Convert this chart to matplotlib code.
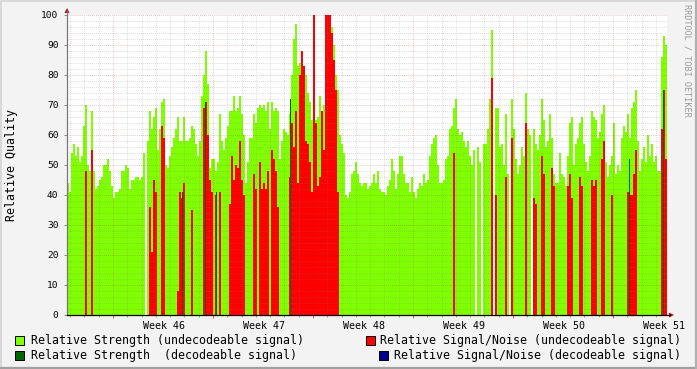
import numpy as np
import matplotlib
matplotlib.use("Agg")
import matplotlib.pyplot as plt
from matplotlib.patches import Rectangle, Polygon
from matplotlib.lines import Line2D
from matplotlib.transforms import blended_transform_factory

# one sample every 0.14 days (about 3.4 h), 300 samples = 6 weeks
sample_days = 0.14

strength_undec = [
    44, 41, 54, 57, 53, 56, 51, 53, 63, 70,
    50, 48, 68, 48, 42, 43, 45, 46, 50, 50,
    52, 48, 43, 39, 41, 41, 42, 48, 48, 50,
    49, 42, 45, 45, 46, 46, 45, 46, 54, 0,
    58, 68, 62, 66, 69, 55, 62, 71, 72, 50,
    49, 53, 56, 59, 62, 66, 58, 58, 66, 58,
    58, 59, 63, 62, 57, 53, 58, 73, 80, 88,
    77, 49, 52, 52, 48, 51, 67, 58, 55, 59,
    63, 68, 68, 73, 68, 69, 73, 67, 60, 44,
    51, 59, 59, 67, 64, 69, 70, 69, 70, 68,
    71, 62, 71, 68, 69, 68, 52, 58, 62, 61,
    60, 67, 80, 92, 97, 83, 84, 86, 83, 80,
    74, 71, 65, 65, 65, 66, 73, 68, 70, 82,
    97, 98, 96, 90, 80, 75, 60, 57, 54, 40,
    39, 41, 47, 48, 51, 47, 44, 43, 44, 44,
    42, 43, 44, 47, 44, 48, 42, 41, 41, 40,
    43, 45, 52, 48, 42, 47, 53, 53, 47, 44,
    44, 41, 46, 41, 39, 42, 44, 43, 47, 44,
    45, 53, 57, 59, 60, 50, 44, 44, 45, 52,
    53, 62, 63, 69, 72, 62, 60, 61, 58, 56,
    58, 53, 50, 55, 0, 56, 51, 0, 57, 57,
    62, 72, 95, 0, 69, 69, 56, 57, 50, 67,
    47, 0, 72, 62, 52, 47, 50, 56, 53, 74,
    62, 60, 0, 62, 57, 55, 60, 72, 65, 56,
    58, 67, 59, 47, 44, 44, 54, 47, 46, 43,
    53, 64, 66, 50, 57, 59, 64, 66, 57, 51,
    48, 53, 68, 66, 65, 59, 61, 67, 70, 51,
    46, 50, 53, 64, 47, 50, 48, 59, 63, 61,
    67, 59, 69, 71, 75, 58, 48, 52, 56, 51,
    60, 53, 57, 51, 53, 48, 48, 86, 93, 90,
]

snr_undec = [
    0, 0, 0, 0, 0, 0, 0, 0, 0, 48,
    0, 0, 55, 0, 0, 0, 0, 0, 0, 0,
    0, 0, 0, 0, 0, 0, 0, 0, 0, 0,
    0, 0, 0, 0, 0, 0, 0, 0, 0, 0,
    0, 36, 21, 45, 41, 0, 0, 63, 59, 0,
    0, 0, 0, 0, 0, 8, 41, 39, 44, 0,
    0, 0, 35, 0, 0, 0, 0, 0, 69, 71,
    60, 45, 41, 0, 40, 0, 41, 0, 0, 0,
    0, 37, 53, 45, 50, 49, 58, 45, 40, 0,
    0, 0, 0, 47, 42, 0, 51, 42, 44, 42,
    48, 0, 55, 52, 48, 36, 0, 0, 0, 0,
    0, 46, 64, 56, 68, 44, 80, 88, 83, 58,
    57, 51, 41, 100, 64, 43, 46, 68, 55, 100,
    100, 100, 94, 85, 75, 41, 0, 0, 0, 0,
    0, 0, 0, 0, 0, 0, 0, 0, 0, 0,
    0, 0, 0, 0, 0, 0, 0, 0, 0, 0,
    0, 0, 0, 0, 0, 0, 0, 0, 0, 0,
    0, 0, 0, 0, 0, 0, 0, 0, 0, 0,
    0, 0, 0, 0, 0, 0, 0, 0, 0, 0,
    0, 0, 0, 54, 0, 0, 0, 0, 0, 0,
    0, 0, 0, 0, 0, 0, 0, 0, 0, 0,
    0, 0, 79, 0, 40, 0, 0, 0, 0, 46,
    0, 0, 59, 0, 0, 0, 0, 0, 0, 64,
    0, 0, 0, 39, 37, 0, 0, 53, 47, 0,
    0, 0, 49, 43, 0, 0, 0, 0, 0, 0,
    43, 47, 39, 0, 0, 0, 46, 43, 0, 0,
    0, 0, 45, 43, 45, 0, 0, 52, 58, 0,
    0, 0, 40, 0, 0, 0, 0, 0, 0, 0,
    41, 40, 40, 47, 55, 0, 0, 0, 0, 0,
    0, 0, 0, 0, 0, 0, 0, 62, 75, 52,
]

# decodeable signal: only a few samples
strength_dec_idx = [57, 69, 74, 111, 281, 298]
strength_dec_val = [41, 71, 41, 72, 52, 75]

week_labels = ["Week 46", "Week 47", "Week 48", "Week 49", "Week 50", "Week 51"]
first_week_day = 6.79     # Week 46 label, days after chart start
first_grid_day = 3.22     # first major grid line

GREEN = "#80FF00"
DKGREEN = "#006600"
RED = "#FF0000"
BLUE = "#00008B"

W, H = 697, 369
plt.rcParams["font.family"] = ["DejaVu Sans Mono"]

fig = plt.figure(figsize=(W / 100, H / 100), dpi=100, facecolor="#F3F3F3")


def fx(x):
    return x / W


def fy(y):
    return 1 - y / H


ax = fig.add_axes([fx(67), 54 / H, 600 / W, 300 / H])
ax.set_facecolor("white")

n = len(strength_undec)
t = np.arange(n) * sample_days
ax.bar(t, strength_undec, width=sample_days, align="edge", color=GREEN,
       linewidth=0, antialiased=False, zorder=1)
ax.bar(t, snr_undec, width=sample_days, align="edge", color=RED,
       linewidth=0, antialiased=False, zorder=2)
ax.bar(t[strength_dec_idx] + sample_days * 0.25, strength_dec_val,
       width=sample_days * 0.5, align="edge", color=DKGREEN,
       linewidth=0, antialiased=False, zorder=2.5)

xmax = n * sample_days
ax.set_xlim(0, xmax)
ax.set_ylim(0, 100)

# grid, drawn over the data like rrdtool does
dots = (0, (0.7, 1.4))
minor_c = (0.5, 0.5, 0.5, 0.38)
major_c = (0.63, 0.0, 0.0, 0.30)
for v in range(2, 101, 2):
    if v % 10:
        ax.axhline(v, color=minor_c, lw=0.7, ls=dots, zorder=3)
for v in range(10, 101, 10):
    ax.axhline(v, color=major_c, lw=0.7, ls=dots, zorder=3)

days = np.arange(first_grid_day % 1, xmax, 1.0)
weeks = np.arange(first_grid_day, xmax, 7.0)
for d in days:
    if min(abs(d - weeks)) > 0.01:
        ax.axvline(d, color=minor_c, lw=0.7, ls=dots, zorder=3)
for d in weeks:
    ax.axvline(d, color=major_c, lw=0.7, ls=dots, zorder=3)

for s in ax.spines.values():
    s.set_visible(False)

ax.set_yticks(range(0, 101, 10))
ax.tick_params(axis="y", length=2, width=0.7, color="#888888", pad=4.1,
               labelsize=6.8, labelcolor="#000000")
week_pos = first_week_day + 7 * np.arange(len(week_labels))
ax.set_xticks(week_pos, week_labels)
ax.tick_params(axis="x", length=0, pad=4.4, labelsize=7.2, labelcolor="#000000")

# small day ticks under the x axis
tr = blended_transform_factory(ax.transData, ax.transAxes)
ax.vlines(days, -0.008, 0, transform=tr, clip_on=False, color="#999999", lw=0.7)
ax.vlines(weeks, -0.011, 0, transform=tr, clip_on=False, color="#C06060", lw=0.7)

# axes lines with arrow heads
fig.add_artist(Line2D([fx(67), fx(67)], [fy(315), fy(11)], color="#777777", lw=0.9))
fig.add_artist(Line2D([fx(67), fx(670)], [fy(315), fy(315)], color="#000000", lw=0.9))
fig.add_artist(Polygon([(fx(64.5), fy(13)), (fx(69.5), fy(13)), (fx(67), fy(8))],
                       closed=True, color="#A01010", lw=0))
fig.add_artist(Polygon([(fx(669), fy(312.5)), (fx(669), fy(317.5)), (fx(674), fy(315))],
                       closed=True, color="#A01010", lw=0))

fig.text(fx(11.5), fy(165), "Relative Quality", rotation=90, ha="center",
         va="center", fontsize=8.4, color="#000000")
fig.text(fx(687.5), fy(60), "RRDTOOL / TOBI OETIKER", rotation=270, ha="center",
         va="center", fontsize=6.1, color="#999999")

# legend
legend_items = [
    (15, 336, GREEN, 30.5, "Relative Strength (undecodeable signal)"),
    (15, 350.5, DKGREEN, 30.5, "Relative Strength  (decodeable signal)"),
    (365.7, 336, RED, 380.5, "Relative Signal/Noise (undecodeable signal)"),
    (379.3, 350.5, BLUE, 394, "Relative Signal/Noise (decodeable signal)"),
]
for sx, sy, col, tx, label in legend_items:
    fig.add_artist(Rectangle((fx(sx), fy(sy + 9)), 9 / W, 9 / H, facecolor=col,
                             edgecolor="black", lw=0.7))
    fig.text(fx(tx), fy(sy + 4.7), label, ha="left", va="center",
             fontsize=8.4, color="#000000")

# frame of the image
fig.add_artist(Line2D([0, 1], [fy(0.5), fy(0.5)], color="#D8D8D8", lw=1.4))
fig.add_artist(Line2D([fx(0.5), fx(0.5)], [0, 1], color="#D8D8D8", lw=1.4))
fig.add_artist(Line2D([0, 1], [fy(368), fy(368)], color="#A0A0A0", lw=1.6))
fig.add_artist(Line2D([fx(696), fx(696)], [0, 1], color="#B0B0B0", lw=1.6))

fig.savefig("out.png", dpi=100, facecolor=fig.get_facecolor())
